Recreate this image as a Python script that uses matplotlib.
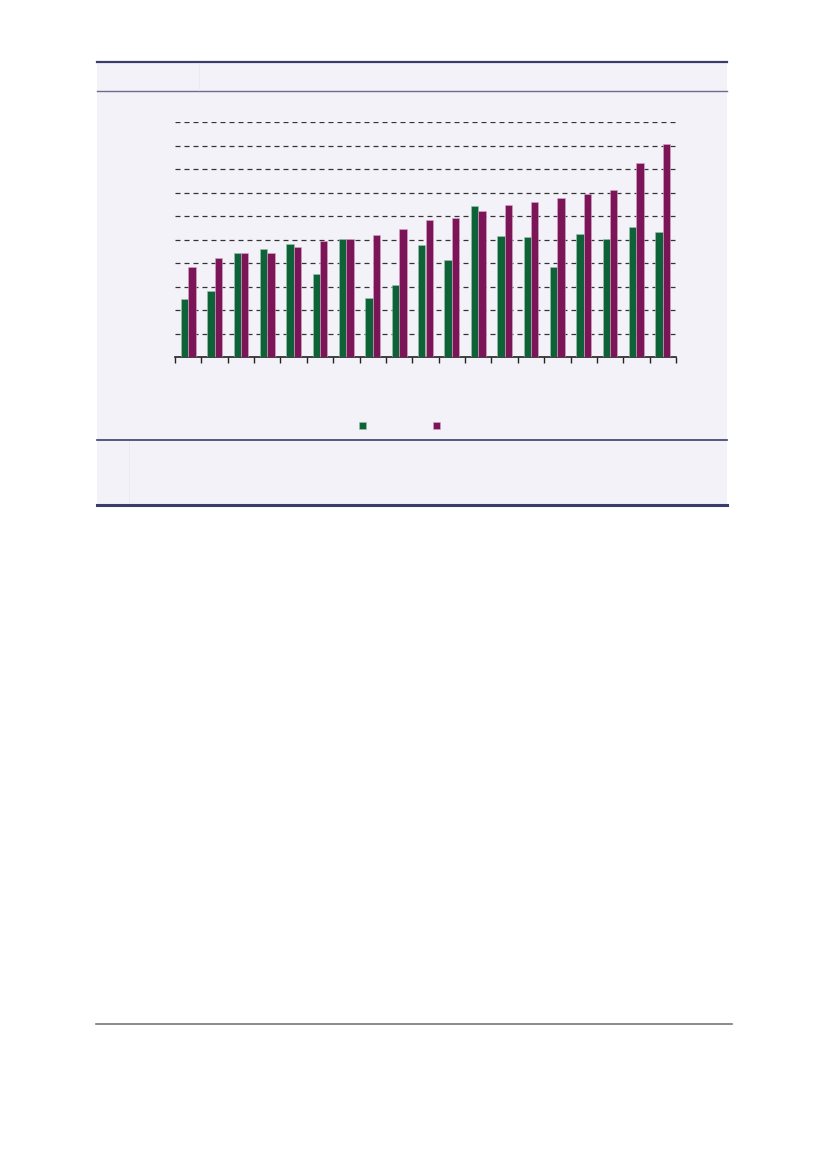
import matplotlib

matplotlib.use("Agg")
from matplotlib import pyplot as plt
from matplotlib.lines import Line2D
from matplotlib.patches import Rectangle
import numpy as np

# values (axis has 10 gridline steps, no labels shown)
series_a = [2.45, 2.79, 4.41, 4.58, 4.81, 3.53, 5.01, 2.50, 3.08, 4.78,
            4.11, 6.43, 5.13, 5.11, 3.83, 5.22, 5.01, 5.53, 5.33]
series_b = [3.83, 4.21, 4.41, 4.43, 4.68, 4.95, 5.01, 5.19, 5.45, 5.82,
            5.91, 6.21, 6.48, 6.60, 6.75, 6.95, 7.09, 8.26, 9.08]
categories = list(range(len(series_a)))

GREEN = "#0d6238"
PURPLE = "#7b1558"
PANEL = "#f3f2f8"
NAVY = "#3a3d6b"

W, H = 826, 1169


def fx(px):
    return px / W


def fy(py):
    return 1 - py / H


def main():
    fig = plt.figure(figsize=(8.26, 11.69), dpi=100)
    fig.patch.set_facecolor("white")

    # panel background, kept behind the axes
    fig.patches.append(
        Rectangle((fx(97), fy(505)), fx(727) - fx(97), fy(62) - fy(505),
                  transform=fig.transFigure, facecolor=PANEL, edgecolor="none",
                  zorder=-5)
    )

    def hline(y, x0, x1, color, lw):
        fig.lines.append(Line2D([fx(x0), fx(x1)], [fy(y), fy(y)],
                                transform=fig.transFigure, color=color, lw=lw,
                                zorder=-1))

    def vline(x, y0, y1, color, lw):
        fig.lines.append(Line2D([fx(x), fx(x)], [fy(y0), fy(y1)],
                                transform=fig.transFigure, color=color, lw=lw,
                                zorder=-1))

    hline(62, 97, 727, NAVY, 1.6)
    hline(91, 97, 727, "#6a6d8e", 1.0)
    vline(199, 63, 90, "#eae9f2", 0.6)
    hline(440, 97, 727, NAVY, 1.2)
    vline(129, 441, 504, "#eae9f2", 0.6)
    hline(505, 97, 727, NAVY, 2.2)
    hline(1024, 96, 732, "#777777", 1.2)

    ax = fig.add_axes([fx(175), fy(357), fx(676) - fx(175), fy(122) - fy(357)])
    ax.set_facecolor("none")
    ax.set_zorder(2)

    x = np.arange(len(categories))
    w = 0.28
    ax.bar(x - w / 2, series_a, width=w, color=GREEN,
           edgecolor="#9cc4ae", linewidth=0.4, zorder=3)
    ax.bar(x + w / 2, series_b, width=w, color=PURPLE,
           edgecolor="#d7a8c6", linewidth=0.4, zorder=3)

    ax.set_xlim(-0.5, len(categories) - 0.5)
    ax.set_ylim(0, 10)
    ax.set_yticks(np.arange(1, 11))
    ax.yaxis.grid(True, color="#333333", linestyle=(0, (4, 3.2)), linewidth=0.9)
    ax.set_axisbelow(True)
    ax.tick_params(axis="y", length=0, labelleft=False)
    ax.set_xticks(np.arange(-0.5, len(categories)))
    ax.tick_params(axis="x", direction="out", length=4, width=1.0,
                   color="#222222", labelbottom=False)
    for side in ["top", "right", "left"]:
        ax.spines[side].set_visible(False)
    ax.spines["bottom"].set_color("#222222")
    ax.spines["bottom"].set_linewidth(1.2)

    # legend markers (no labels visible in the reference)
    for px, col, ec in [(362, GREEN, "#9cc4ae"), (436, PURPLE, "#d7a8c6")]:
        fig.patches.append(
            Rectangle((fx(px - 3.5), fy(429)), fx(7), fy(422) - fy(429),
                      transform=fig.transFigure, facecolor=col, edgecolor=ec,
                      linewidth=0.4, zorder=3)
        )

    fig.savefig("out.png", dpi=100, facecolor=fig.get_facecolor())


if __name__ == "__main__":
    main()
